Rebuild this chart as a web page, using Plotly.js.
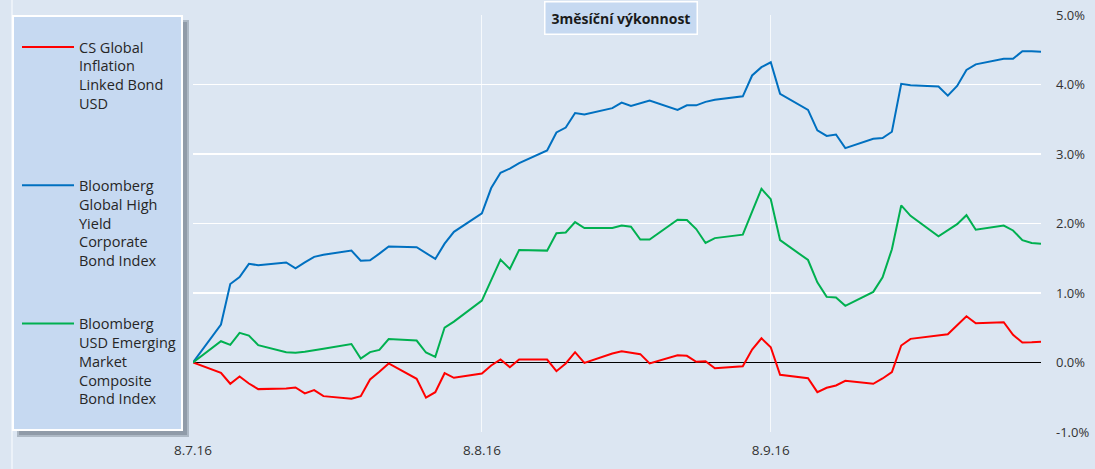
<!DOCTYPE html>
<html>
<head>
<meta charset="utf-8">
<script src="https://cdn.plot.ly/plotly-3.0.1.min.js"></script>
<style>html,body{margin:0;padding:0;background:#dce6f2;}#chart{width:1095px;height:469px;}</style>
</head>
<body>
<div id="chart"></div>
<script>
const dates = ['2016-07-08','2016-07-11','2016-07-12','2016-07-13','2016-07-14','2016-07-15',
'2016-07-18','2016-07-19','2016-07-20','2016-07-21','2016-07-22',
'2016-07-25','2016-07-26','2016-07-27','2016-07-28','2016-07-29',
'2016-08-01','2016-08-02','2016-08-03','2016-08-04','2016-08-05',
'2016-08-08','2016-08-09','2016-08-10','2016-08-11','2016-08-12',
'2016-08-15','2016-08-16','2016-08-17','2016-08-18','2016-08-19',
'2016-08-22','2016-08-23','2016-08-24','2016-08-25','2016-08-26',
'2016-08-29','2016-08-30','2016-08-31','2016-09-01','2016-09-02',
'2016-09-05','2016-09-06','2016-09-07','2016-09-08','2016-09-09',
'2016-09-12','2016-09-13','2016-09-14','2016-09-15','2016-09-16',
'2016-09-19','2016-09-20','2016-09-21','2016-09-22','2016-09-23',
'2016-09-26','2016-09-27','2016-09-28','2016-09-29','2016-09-30',
'2016-10-03','2016-10-04','2016-10-05','2016-10-06','2016-10-07'];

const csInflation = [0,-0.148,-0.306,-0.201,-0.302,-0.383,
-0.374,-0.36,-0.445,-0.398,-0.484,
-0.52,-0.484,-0.244,-0.134,-0.014,
-0.234,-0.505,-0.427,-0.154,-0.22,
-0.158,-0.043,0.043,-0.067,0.043,
0.043,-0.125,-0.014,0.148,-0.005,
0.13,0.162,0.139,0.12,-0.014,
0.105,0.096,0.01,0.019,-0.082,
-0.053,0.187,0.349,0.22,-0.177,
-0.225,-0.426,-0.364,-0.33,-0.264,
-0.306,-0.23,-0.139,0.244,0.34,
0.39,0.407,0.536,0.665,0.565,
0.58,0.398,0.287,0.29,0.297];

const highYield = [0,0.546,1.13,1.23,1.42,1.40,
1.44,1.355,1.44,1.52,1.55,
1.61,1.465,1.47,1.566,1.67,
1.66,1.57,1.49,1.71,1.88,
2.145,2.51,2.73,2.79,2.87,
3.05,3.31,3.38,3.59,3.57,
3.66,3.74,3.69,3.73,3.77,
3.635,3.70,3.70,3.75,3.78,
3.83,4.13,4.25,4.32,3.865,
3.635,3.34,3.26,3.28,3.085,
3.22,3.23,3.32,4.01,3.99,
3.97,3.84,3.98,4.21,4.29,
4.37,4.37,4.48,4.48,4.47];

const emergingMkt = [0,0.306,0.254,0.427,0.388,0.249,
0.148,0.139,0.155,0.172,0.197,
0.265,0.057,0.15,0.182,0.337,
0.316,0.144,0.082,0.503,0.589,
0.89,1.19,1.48,1.346,1.62,
1.61,1.86,1.87,2.02,1.935,
1.935,1.97,1.954,1.77,1.77,
2.055,2.05,1.92,1.72,1.79,
1.84,2.17,2.50,2.35,1.76,
1.475,1.154,0.944,0.934,0.815,
1.016,1.226,1.63,2.26,2.11,
1.815,1.90,1.99,2.12,1.91,
1.97,1.90,1.76,1.72,1.71];

const seriesNames = [
  'CS Global<br>Inflation<br>Linked Bond<br>USD<br> ',
  'Bloomberg<br>Global High<br>Yield<br>Corporate<br>Bond Index',
  'Bloomberg<br>USD Emerging<br>Market<br>Composite<br>Bond Index'
];
const xTickVals = ['2016-07-08','2016-08-08','2016-09-08'];
const xTickText = ['8.7.16','8.8.16','8.9.16'];
const yTickVals = [-1,0,1,2,3,4,5];
const yTickText = ['-1.0%','0.0%','1.0%','2.0%','3.0%','4.0%','5.0%'];
const chartTitle = '3měsíční výkonnost';

const W = 1095, Hgt = 469;
const M = {l:193, r:54, t:15, b:37};
const PW = W - M.l - M.r, PH = Hgt - M.t - M.b;
const px = x => (x - M.l) / PW;
const py = y => (Hgt - M.b - y) / PH;

const FONT = '"Open Sans", "DejaVu Sans", sans-serif';

const traces = [
  {x: dates, y: csInflation, name: seriesNames[0], color: '#ff0000'},
  {x: dates, y: highYield, name: seriesNames[1], color: '#0070c0'},
  {x: dates, y: emergingMkt, name: seriesNames[2], color: '#00b050'}
].map((t, i) => ({
  type: 'scatter', mode: 'lines', x: t.x, y: t.y, name: t.name,
  legendgroup: 'g' + i,
  line: {color: t.color, width: 2},
  hoverinfo: 'skip'
}));

const layout = {
  width: W, height: Hgt,
  margin: M,
  paper_bgcolor: '#dce6f2',
  plot_bgcolor: '#dce6f2',
  font: {family: FONT, color: '#333333', size: 13},
  showlegend: true,
  legend: {
    x: px(17), y: py(31), xanchor: 'left', yanchor: 'top',
    bgcolor: 'rgba(0,0,0,0)', borderwidth: 0,
    traceorder: 'grouped', tracegroupgap: 41,
    valign: 'top', itemwidth: 52,
    font: {family: FONT, size: 14.5, color: '#262626'}
  },
  xaxis: {
    type: 'date',
    range: ['2016-07-08', '2016-10-07'],
    tickvals: xTickVals, ticktext: xTickText,
    showgrid: true, gridcolor: 'rgba(255,255,255,0.75)', gridwidth: 1,
    zeroline: false, showline: false, ticks: '',
    ticklabelstandoff: 8,
    tickfont: {family: FONT, size: 13.5, color: '#333333'},
    fixedrange: true
  },
  yaxis: {
    side: 'right',
    range: [-1, 5],
    tickvals: yTickVals, ticktext: yTickText,
    showgrid: true, gridcolor: '#ffffff', gridwidth: 1.3,
    zeroline: true, zerolinecolor: '#000000', zerolinewidth: 1.3,
    showline: false, ticks: '',
    ticklabelstandoff: 14,
    tickfont: {family: FONT, size: 13, color: '#333333'},
    fixedrange: true
  },
  shapes: [
    {type: 'line', xref: 'paper', yref: 'paper', x0: px(12), x1: px(12), y0: py(0), y1: py(Hgt),
     line: {color: '#f2f6fb', width: 1.5}, layer: 'above'},
    {type: 'rect', xref: 'paper', yref: 'paper', x0: px(17), x1: px(189), y0: py(437), y1: py(20),
     fillcolor: 'rgba(90,100,115,0.35)', line: {width: 0}, layer: 'above'},
    {type: 'rect', xref: 'paper', yref: 'paper', x0: px(19), x1: px(187), y0: py(435), y1: py(22),
     fillcolor: 'rgba(90,100,115,0.35)', line: {width: 0}, layer: 'above'},
    {type: 'rect', xref: 'paper', yref: 'paper', x0: px(13), x1: px(182), y0: py(430), y1: py(16),
     fillcolor: '#c6d9f1', line: {color: '#ffffff', width: 2}, layer: 'above'}
  ],
  annotations: [
    {xref: 'paper', yref: 'paper', x: px(621), y: py(18), xanchor: 'center', yanchor: 'middle',
     text: '<b>' + chartTitle + '</b>', showarrow: false,
     font: {family: FONT, size: 14, color: '#1a1a1a'},
     bgcolor: '#c6d9f1', bordercolor: '#ffffff', borderwidth: 1.5, borderpad: 6}
  ]
};

Plotly.newPlot('chart', traces, layout, {displayModeBar: false, staticPlot: true});
</script>
</body>
</html>
